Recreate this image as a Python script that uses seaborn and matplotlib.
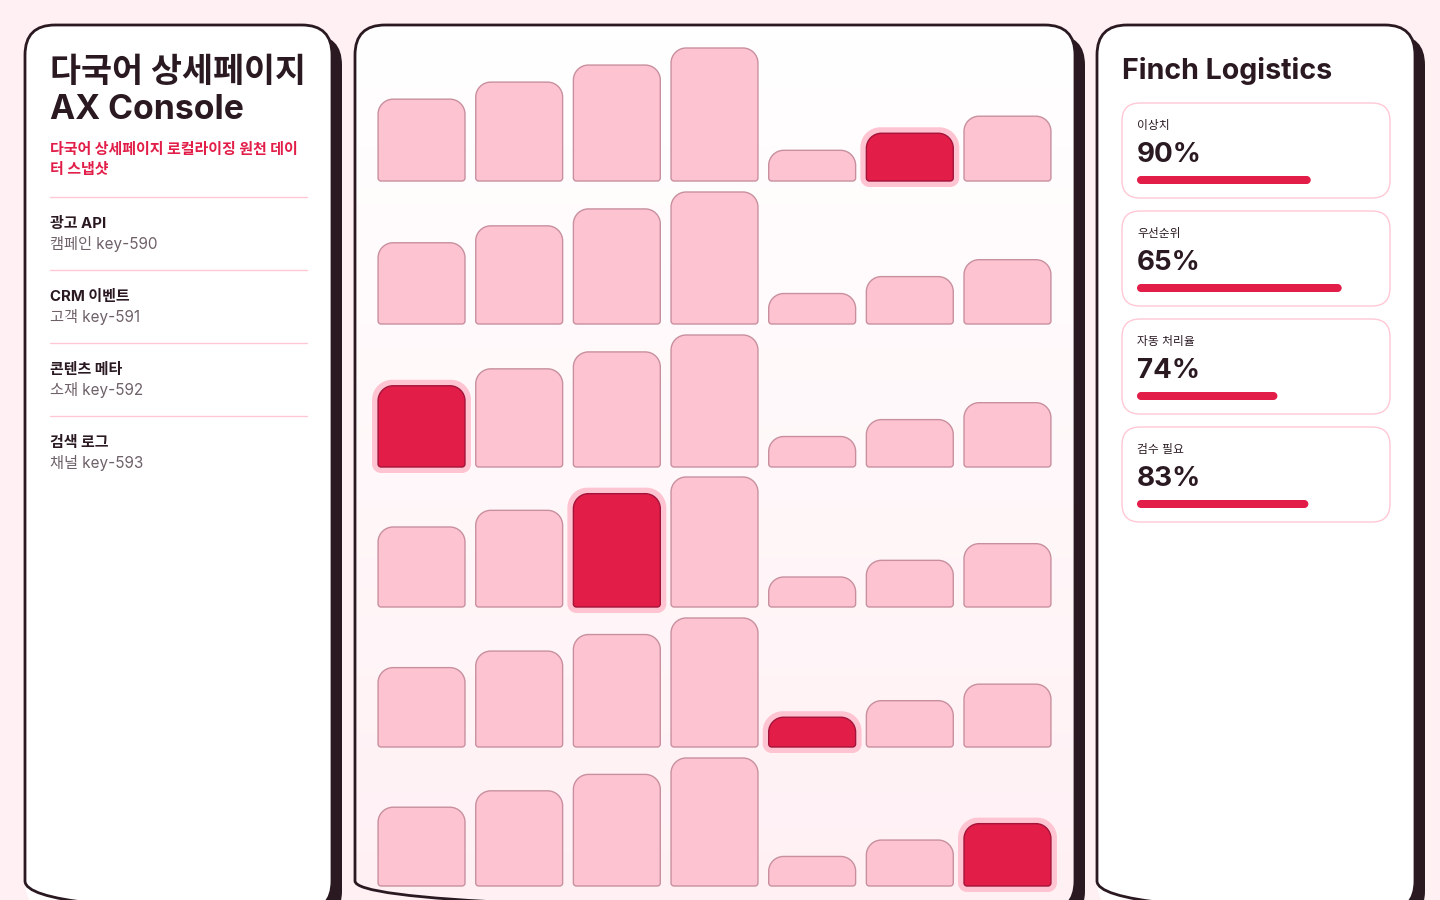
import numpy as np
import pandas as pd
import matplotlib
matplotlib.use("Agg")
import matplotlib.pyplot as plt
from matplotlib.patches import FancyBboxPatch, PathPatch
from matplotlib.path import Path
from matplotlib.colors import LinearSegmentedColormap
import seaborn as sns

# ---- data ----
columns = ["c1", "c2", "c3", "c4", "c5", "c6", "c7"]
bar_values = [48, 58, 68, 78, 18, 28, 38]
row_highlight = [5, None, 0, 2, 4, 6]

title_lines = ["다국어 상세페이지", "AX Console"]
subtitle_lines = ["다국어 상세페이지 로컬라이징 원천 데이", "터 스냅샷"]
source_names = ["광고 API", "CRM 이벤트", "콘텐츠 메타", "검색 로그"]
source_keys = ["캠페인 key-590", "고객 key-591", "소재 key-592", "채널 key-593"]

company = "Finch Logistics"
kpi_labels = ["이상치", "우선순위", "자동 처리율", "검수 필요"]
kpi_values = [90, 65, 74, 83]
kpi_bar_fill = [0.73, 0.86, 0.59, 0.72]

# ---- colours ----
BG = "#FFF0F3"
DARK = "#2A1921"
RED = "#E11D48"
RED_EDGE = "#A3143A"
PINK = "#FEC3D1"
PINK_EDGE = "#C8909F"
HALO = "#FFC4D2"
LINE = "#FFC8D4"
GRAY = "#6E6068"

sns.set_style("white")
plt.rcParams["font.family"] = ["Inter", "Noto Sans CJK KR", "DejaVu Sans"]

W, H = 1440, 900
fig = plt.figure(figsize=(14.4, 9), dpi=100, facecolor=BG)


def fig_rect(x, y, w, h):
    # pixel rect (top-left origin) -> figure fraction
    return [x / W, 1 - (y + h) / H, w / W, h / H]


def rounded_path(x0, y0, w, h, rt, rb, sx, sy):
    # rounded rectangle in data coords, radii given in pixels
    k = 0.5523
    rt = min(rt, abs(w / sx) / 2, abs(h / sy) / 2)
    rb = min(rb, abs(w / sx) / 2, abs(h / sy) / 2)
    tx, ty, bx, by = rt * sx, rt * sy, rb * sx, rb * sy
    x1, y1 = x0 + w, y0 + h
    v = [(x0 + bx, y0), (x1 - bx, y0),
         (x1 - bx * (1 - k), y0), (x1, y0 + by * (1 - k)), (x1, y0 + by),
         (x1, y1 - ty),
         (x1, y1 - ty * (1 - k)), (x1 - tx * (1 - k), y1), (x1 - tx, y1),
         (x0 + tx, y1),
         (x0 + tx * (1 - k), y1), (x0, y1 - ty * (1 - k)), (x0, y1 - ty),
         (x0, y0 + by),
         (x0, y0 + by * (1 - k)), (x0 + bx * (1 - k), y0), (x0 + bx, y0),
         (x0 + bx, y0)]
    c = [Path.MOVETO, Path.LINETO,
         Path.CURVE4, Path.CURVE4, Path.CURVE4,
         Path.LINETO,
         Path.CURVE4, Path.CURVE4, Path.CURVE4,
         Path.LINETO,
         Path.CURVE4, Path.CURVE4, Path.CURVE4,
         Path.LINETO,
         Path.CURVE4, Path.CURVE4, Path.CURVE4,
         Path.CLOSEPOLY]
    return Path(v, c)


# ---- background / panels ----
bg = fig.add_axes([0, 0, 1, 1])
bg.set_xlim(0, W)
bg.set_ylim(H, 0)
bg.axis("off")

panels = [(25, 25, 307, 886), (355, 25, 720, 886), (1097, 25, 318, 886)]
for i, (px, py, pw, ph) in enumerate(panels):
    bg.add_patch(FancyBboxPatch((px + 10, py + 10), pw, ph, boxstyle="round,pad=0,rounding_size=30",
                                fc=DARK, ec="none", zorder=1))
    face = FancyBboxPatch((px, py), pw, ph, boxstyle="round,pad=0,rounding_size=30",
                          fc="white", ec="none", zorder=2)
    bg.add_patch(face)
    if i == 1:
        cmap = LinearSegmentedColormap.from_list("grad", ["#FFFFFF", "#FFF0F4"])
        im = bg.imshow(np.linspace(0, 1, 256).reshape(-1, 1), cmap=cmap, aspect="auto",
                       extent=(px, px + pw, py + ph, py), zorder=3)
        im.set_clip_path(face)
    bg.add_patch(FancyBboxPatch((px, py), pw, ph, boxstyle="round,pad=0,rounding_size=30",
                                fc="none", ec=DARK, lw=2, zorder=4))
bg.set_xlim(0, W)
bg.set_ylim(H, 0)

# ---- left panel text ----
bg.text(50, 82, title_lines[0], fontsize=24.3, fontweight="bold", color=DARK, zorder=5)
bg.text(50, 119, title_lines[1], fontsize=24.3, fontweight="bold", color=DARK, zorder=5)
for j, s in enumerate(subtitle_lines):
    bg.text(50, 150 + 20 * j, s, fontsize=10.8, fontweight="bold", color=RED, va="center", zorder=5)

for i, (name, key) in enumerate(zip(source_names, source_keys)):
    y = 197 + 73 * i
    bg.plot([50, 307], [y, y], color=LINE, lw=1, zorder=5)
    bg.text(50, y + 27, name, fontsize=10.8, fontweight="bold", color=DARK, va="center", zorder=5)
    bg.text(50, y + 47, key, fontsize=11, color=GRAY, va="center", zorder=5)

# ---- right panel ----
bg.text(1122, 79, company, fontsize=20.6, fontweight="bold", color=DARK, zorder=5)
for i, (lab, val) in enumerate(zip(kpi_labels, kpi_values)):
    cy = 103 + 108 * i
    bg.add_patch(FancyBboxPatch((1122, cy), 268, 95, boxstyle="round,pad=0,rounding_size=18",
                                fc="white", ec=LINE, lw=1, zorder=5))
    bg.text(1137, cy + 23, lab, fontsize=8.5, color=DARK, va="center", zorder=6)
    bg.text(1137, cy + 59, f"{val}%", fontsize=20, fontweight="bold", color=DARK, zorder=6)

# progress bars
kp = fig.add_axes(fig_rect(1137, 126, 238, 432))
kdf = pd.DataFrame({"kpi": kpi_labels, "fill": kpi_bar_fill})
sns.barplot(data=kdf, y="kpi", x="fill", orient="h", width=8 / 108, color=RED, ax=kp)
kp.set_xlim(0, 1)
kp.set_ylim(3.5, -0.5)
kp.axis("off")
kp.patch.set_alpha(0)
sx, sy = 1 / 238, 4 / 432
for p in list(kp.patches):
    x0, y0, w, h = p.get_x(), p.get_y(), p.get_width(), p.get_height()
    p.remove()
    kp.add_patch(PathPatch(rounded_path(x0, y0, w, h, 4, 4, sx, sy), fc=RED, ec="none"))

# ---- centre bar grid ----
ax_left, ax_w = 372.7, 683.6
row_bottoms = [181, 324, 467, 607, 747, 886]
row_tall_px = [133, 132, 132, 130, 129, 128]
for r, hi in enumerate(row_highlight):
    bottom, tall = row_bottoms[r], row_tall_px[r]
    band = tall + 8
    ytop = max(bar_values) * band / tall
    ax = fig.add_axes(fig_rect(ax_left, bottom - band, ax_w, band))
    df = pd.DataFrame({"col": columns, "val": bar_values})
    sns.barplot(data=df, x="col", y="val", width=0.89, color=PINK, ax=ax)
    ax.set_xlim(-0.5, 6.5)
    ax.set_ylim(0, ytop)
    ax.axis("off")
    ax.patch.set_alpha(0)
    sx, sy = 7 / ax_w, ytop / band
    for j, p in enumerate(list(ax.patches)):
        x0, w, h = p.get_x(), p.get_width(), p.get_height()
        p.remove()
        if j == hi:
            ax.add_patch(PathPatch(rounded_path(x0 - 6 * sx, -6 * sy, w + 12 * sx, h + 12 * sy, 20, 9, sx, sy),
                                   fc=HALO, ec="none", clip_on=False, zorder=2))
            ax.add_patch(PathPatch(rounded_path(x0, 0, w, h, 15, 3, sx, sy),
                                   fc=RED, ec=RED_EDGE, lw=1, clip_on=False, zorder=3))
        else:
            ax.add_patch(PathPatch(rounded_path(x0, 0, w, h, 15, 3, sx, sy),
                                   fc=PINK, ec=PINK_EDGE, lw=1, clip_on=False, zorder=3))

fig.savefig("out.png", dpi=100, facecolor=BG)
